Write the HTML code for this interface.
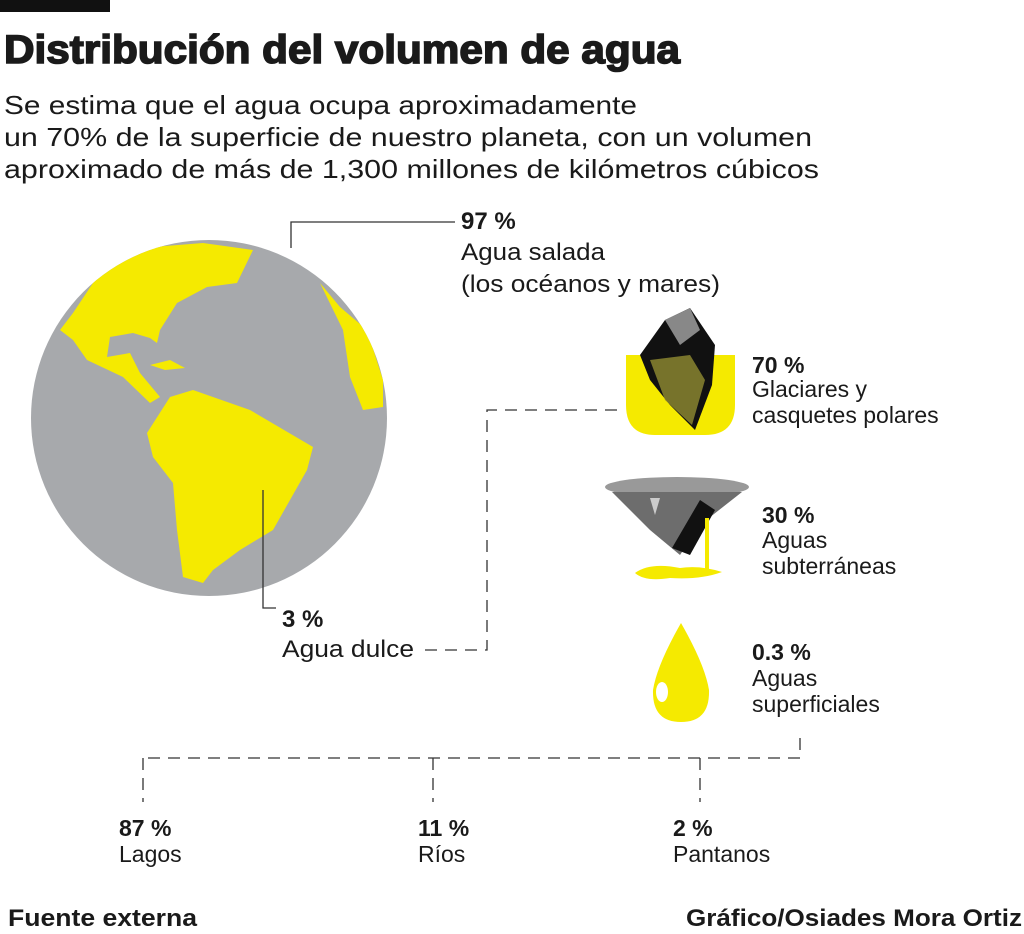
<!DOCTYPE html>
<html><head><meta charset="utf-8"><style>
html,body{margin:0;padding:0;background:#fff;}
svg{display:block}
text{font-family:"Liberation Sans",sans-serif;fill:#1a1a1a}
.b{font-weight:bold}
</style></head><body>
<svg width="1024" height="934" viewBox="0 0 1024 934" xmlns="http://www.w3.org/2000/svg">
<rect x="0" y="0" width="110" height="12" fill="#111"/>
<text x="4" y="63" class="b" font-size="40" stroke="#1a1a1a" stroke-width="1.6" textLength="676" lengthAdjust="spacingAndGlyphs">Distribución del volumen de agua</text>
<g font-size="26">
<text x="4" y="114" textLength="633" lengthAdjust="spacingAndGlyphs">Se estima que el agua ocupa aproximadamente</text>
<text x="4" y="146" textLength="808" lengthAdjust="spacingAndGlyphs">un 70% de la superficie de nuestro planeta, con un volumen</text>
<text x="4" y="178" textLength="815" lengthAdjust="spacingAndGlyphs">aproximado de más de 1,300 millones de kilómetros cúbicos</text>
</g>
<defs><clipPath id="g"><circle cx="209" cy="418" r="178"/></clipPath></defs>
<circle cx="209" cy="418" r="178" fill="#a7a9ac"/>
<g clip-path="url(#g)" fill="#f5ea00">
<polygon points="60,330 73,313 97,277 120,257 153,247 203,243 253,250 237,283 207,287 177,303 160,330 157,343 150,338 133,333 110,337 107,357 130,353 140,373 160,397 150,403 123,377 87,360 73,340"/>
<polygon points="147,433 170,397 193,390 250,410 313,447 307,470 273,530 240,550 213,570 203,583 183,577 177,530 173,483 153,457"/>
<polygon points="320,283 340,307 367,330 383,380 383,407 363,410 350,377 343,330"/>
<polygon points="150,365 170,360 185,368 165,370"/>
</g>
<g stroke="#333" stroke-width="1.3" fill="none">
<polyline points="291,248 291,222 455,222"/>
<polyline points="263,490 263,608 276,608"/>
<g stroke-dasharray="12,8"><polyline points="425,650 487,650 487,410 620,410"/>
<polyline points="800,738 800,758 143,758"/>
<line x1="143" y1="758" x2="143" y2="802"/><line x1="433" y1="758" x2="433" y2="802"/><line x1="700" y1="758" x2="700" y2="802"/></g>
</g>
<g font-size="24">
<text x="461" y="229" class="b">97 %</text>
<text x="461" y="260" textLength="144" lengthAdjust="spacingAndGlyphs">Agua salada</text>
<text x="461" y="292" textLength="259" lengthAdjust="spacingAndGlyphs">(los océanos y mares)</text>
<text x="282" y="627" class="b">3 %</text>
<text x="282" y="657" textLength="132" lengthAdjust="spacingAndGlyphs">Agua dulce</text>
</g>
<g font-size="23">
<text x="752" y="373" class="b">70 %</text>
<text x="752" y="397">Glaciares y</text>
<text x="752" y="423">casquetes polares</text>
<text x="762" y="523" class="b">30 %</text>
<text x="762" y="548">Aguas</text>
<text x="762" y="574">subterráneas</text>
<text x="752" y="660" class="b">0.3 %</text>
<text x="752" y="686">Aguas</text>
<text x="752" y="712">superficiales</text>
<text x="119" y="836" class="b">87 %</text>
<text x="119" y="862">Lagos</text>
<text x="418" y="836" class="b">11 %</text>
<text x="418" y="862">Ríos</text>
<text x="673" y="836" class="b">2 %</text>
<text x="673" y="862">Pantanos</text>
</g>
<g font-size="24">
<text x="8" y="926" style="font-weight:600" textLength="189" lengthAdjust="spacingAndGlyphs">Fuente externa</text>
<text x="686" y="926" style="font-weight:600" textLength="336" lengthAdjust="spacingAndGlyphs">Gráfico/Osiades Mora Ortiz</text>
</g>
<path d="M626,355 L735,355 L735,405 Q735,435 705,435 L655,435 Q626,435 626,405 Z" fill="#f5ea00"/>
<polygon points="640,355 665,320 690,308 715,345 712,385 695,430 670,405 650,380" fill="#111"/>
<polygon points="665,320 690,308 700,330 680,345" fill="#888"/>
<polygon points="650,360 690,355 705,380 692,425 665,400" fill="#8a8530" opacity="0.85"/>
<ellipse cx="677" cy="487" rx="72" ry="10" fill="#999"/>
<polygon points="612,492 742,492 700,525 680,555 650,530" fill="#6d6d6d"/>
<polygon points="700,500 715,510 690,555 672,548" fill="#111"/>
<polygon points="650,498 660,498 655,515" fill="#ccc"/>
<rect x="705" y="518" width="4" height="52" fill="#f5ea00"/>
<path d="M635,573 Q650,562 680,568 Q700,565 722,572 Q700,580 670,578 Q645,582 635,573 Z" fill="#f5ea00"/>
<path d="M681,623 Q705,665 709,690 Q710,722 681,722 Q652,722 653,690 Q657,665 681,623 Z" fill="#f5ea00"/>
<ellipse cx="662" cy="692" rx="6" ry="10" fill="#fff"/>
</svg>
</body></html>
